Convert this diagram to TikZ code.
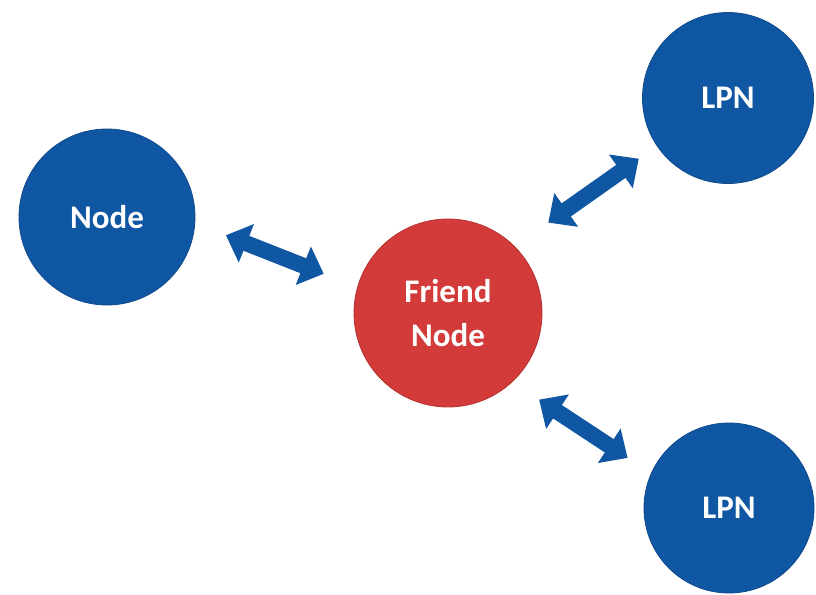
\documentclass[tikz,border=0pt]{standalone}
\usepackage{fontspec}
\setmainfont{Carlito}
\usetikzlibrary{arrows.meta}
\definecolor{meshblue}{HTML}{0F56A3}
\definecolor{meshred}{HTML}{D23B39}
\tikzset{
  peer/.style={circle, fill=meshblue, draw=meshblue!85!black, line width=0.8pt,
    inner sep=0pt, text=white, align=center,
    font=\bfseries\fontsize{33}{44}\selectfont},
  friendpeer/.style={peer, fill=meshred, draw=meshred!85!black},
  link/.style={draw=meshblue, line width=16pt,
    {Triangle[length=22pt,width=40pt]}-{Triangle[length=22pt,width=40pt]}}
}
\begin{document}
\begin{tikzpicture}[x=1pt,y=-1pt]
  \useasboundingbox (0,0) rectangle (816,594);
  % relay node and its neighbours
  \node[friendpeer, minimum size=188pt] (friend) at (448,313) {Friend\\Node};
  \node[peer, minimum size=176pt] (node) at (107,217) {Node};
  \node[peer, minimum size=171pt] (lpnA) at (728,98) {LPN};
  \node[peer, minimum size=170pt] (lpnB) at (729,508) {LPN};
  % two-way links
  \draw[link, shorten <=33pt, shorten >=36pt] (node.-4) -- (friend.164);
  \draw[link, shorten <=41pt, shorten >=22pt] (friend.45) -- (lpnA.214);
  \draw[link, shorten <=32pt, shorten >=28pt] (friend.-47) -- (lpnB.156);
\end{tikzpicture}
\end{document}
